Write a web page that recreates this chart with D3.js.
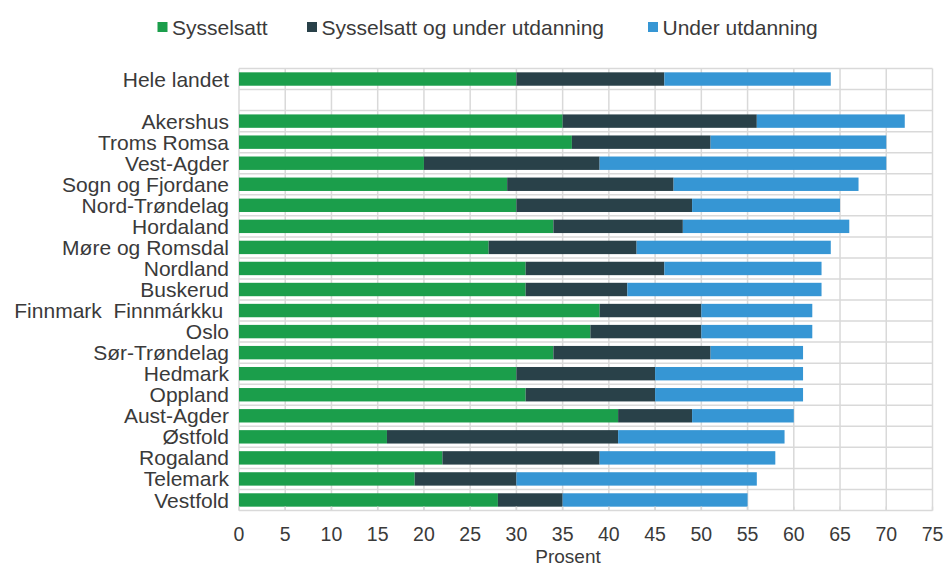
<!DOCTYPE html>
<html><head><meta charset="utf-8">
<script src="https://cdn.jsdelivr.net/npm/d3@7"></script>
<style>body{margin:0;background:#fff}text{font-family:"Liberation Sans",Arial,sans-serif;fill:#3a3a3a}</style>
</head><body><svg id="c" width="945" height="567"></svg>
<script>
const categories = ["Hele landet","","Akershus","Troms Romsa","Vest-Agder","Sogn og Fjordane","Nord-Trøndelag","Hordaland","Møre og Romsdal","Nordland","Buskerud","Finnmark  Finnmárkku ","Oslo","Sør-Trøndelag","Hedmark","Oppland","Aust-Agder","Østfold","Rogaland","Telemark","Vestfold"];
const sysselsatt = [30,null,35,36,20,29,30,34,27,31,31,39,38,34,30,31,41,16,22,19,28];
const begge =      [16,null,21,15,19,18,19,14,16,15,11,11,12,17,15,14,8,25,17,11,7];
const utdanning =  [18,null,16,19,31,20,16,18,21,17,21,12,12,10,16,16,11,18,19,26,20];
const seriesNames = ["Sysselsatt","Sysselsatt og under utdanning","Under utdanning"];
const colors = ["#1b9e4b","#294149","#3696d4"];
const xTicks = d3.range(0,80,5);

const svg = d3.select("#c");
const m = {l:239, r:932.5, t:68.5, b:510.5};
const x = d3.scaleLinear().domain([0,75]).range([m.l,m.r]);
const y = d3.scaleBand().domain(d3.range(categories.length)).range([m.t,m.b]).paddingInner(0).paddingOuter(0);
const grid = "#d9d9d9";

const g = svg.append("g");
g.selectAll(".v").data(xTicks).join("line").attr("x1",d=>x(d)).attr("x2",d=>x(d)).attr("y1",m.t).attr("y2",m.b).attr("stroke",grid).attr("stroke-width",1.5);
g.selectAll(".h").data(d3.range(categories.length+1)).join("line").attr("x1",m.l).attr("x2",m.r)
  .attr("y1",d=>m.t+d*y.step()).attr("y2",d=>m.t+d*y.step()).attr("stroke",grid).attr("stroke-width",1.5);

const rows = categories.map((c,i)=>({i, v:[sysselsatt[i],begge[i],utdanning[i]]}));
const bh = 13.4;
rows.forEach(r=>{
  if(r.v[0]==null) return;
  let acc=0;
  r.v.forEach((v,k)=>{
    svg.append("rect").attr("x",x(acc)).attr("width",x(acc+v)-x(acc))
      .attr("y",y(r.i)+y.bandwidth()/2-bh/2).attr("height",bh).attr("fill",colors[k]);
    acc+=v;
  });
});

svg.selectAll(".tk").data(xTicks).join("line").attr("x1",d=>x(d)).attr("x2",d=>x(d)).attr("y1",m.b).attr("y2",m.b-4).attr("stroke",grid).attr("stroke-width",1.5);

svg.selectAll(".cl").data(categories).join("text").attr("x",229).attr("y",(d,i)=>y(i)+y.bandwidth()/2)
  .attr("dy","0.36em").attr("text-anchor","end").style("white-space","pre").attr("font-size",21).text(d=>d);

svg.selectAll(".xl").data(xTicks).join("text").attr("x",d=>x(d)).attr("y",541).attr("text-anchor","middle").attr("font-size",19.5).text(d=>d);
svg.append("text").attr("x",568).attr("y",563).attr("text-anchor","middle").attr("font-size",19).text("Prosent");

const lx = [157.5,307,648];
seriesNames.forEach((n,k)=>{
  svg.append("rect").attr("x",lx[k]).attr("y",22).attr("width",10).attr("height",10).attr("fill",colors[k]);
  svg.append("text").attr("x",lx[k]+14.5).attr("y",27).attr("dy","0.36em").attr("font-size",21).text(n);
});
</script></body></html>
